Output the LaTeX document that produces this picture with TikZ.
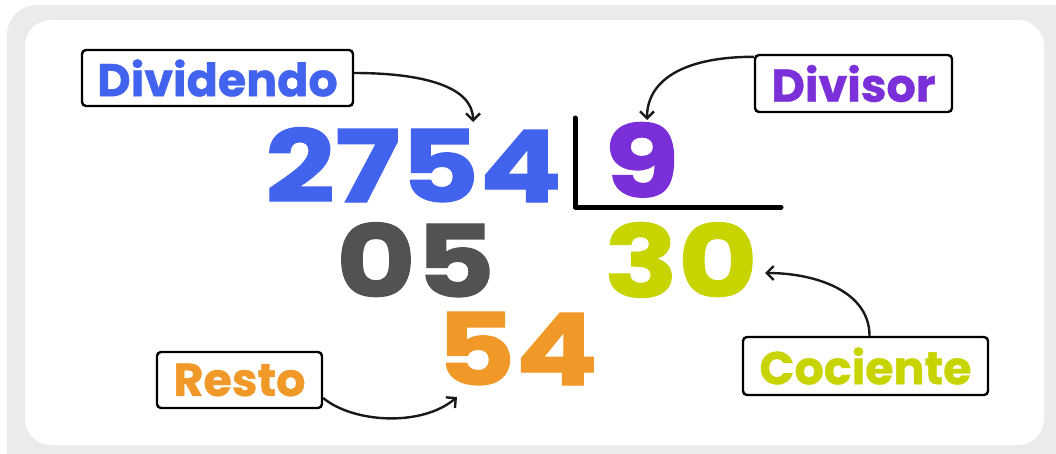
\documentclass[tikz,border=0pt]{standalone}
\usepackage{fontspec}
\setmainfont{Poppins}
\newfontfamily\digitfont{Poppins}[FakeStretch=1.22, BoldFeatures={FakeBold=1.2}]
\newfontfamily\labelfont{Poppins}[BoldFeatures={FakeBold=0.8}]
\usetikzlibrary{arrows.meta}
\definecolor{cblue}{RGB}{66,99,238}
\definecolor{cpurple}{RGB}{123,47,217}
\definecolor{cdark}{RGB}{82,82,82}
\definecolor{clime}{RGB}{200,212,0}
\definecolor{corange}{RGB}{240,152,40}
\definecolor{cframe}{RGB}{235,235,235}
\begin{document}
\begin{tikzpicture}[x=1pt,y=-1pt,
  lbl/.style={draw=black, line width=2.4pt, rounded corners=4pt, fill=white,
    font=\labelfont\fontsize{46}{46}\selectfont\bfseries, inner sep=0pt},
  num/.style={font=\digitfont\fontsize{100}{100}\selectfont\bfseries, inner sep=0pt, anchor=base west},
  arr/.style={-{Straight Barb[length=7pt,width=14pt]}, line width=2.4pt, draw=black!90},
]
\useasboundingbox (0,0) rectangle (1056,453);
\fill[white] (0,0) rectangle (1056,453);
\fill[cframe, rounded corners=30pt] (7,5) rectangle (1090,490);
\fill[white, rounded corners=26pt] (25,20) rectangle (1044,445);

% division bracket
\draw[line width=5pt, line cap=round, line join=round] (575,118) -- (575,207) -- (781,207);

% numbers
\node[num, text=cblue] (dividend) at (265,202) {2754};
\node[num, text=cpurple] (divisor) at (604,197) {9};
\node[num, text=cdark] (partial) at (336,297) {05};
\node[num, text=clime] (quot) at (604,297) {30};
\node[num, text=corange] (rem) at (436,385) {54};

% labels
\node[lbl, text=cblue, minimum width=271pt, minimum height=56pt] (ldvd) at (217.5,78) {Dividendo};
\node[lbl, text=cpurple, minimum width=197pt, minimum height=57pt] (ldvs) at (853.5,83.5) {Divisor};
\node[lbl, text=corange, minimum width=165pt, minimum height=56pt] (lres) at (239.5,380) {Resto};
\node[lbl, text=clime, minimum width=245pt, minimum height=58pt] (lcoc) at (865.5,366) {Cociente};

% arrow ends
\coordinate (tdvd) at (473,122);
\coordinate (tdvs) at (647,120);
\coordinate (tcoc) at (765,273);
\coordinate (tres) at (457,397);

\draw[arr] ([yshift=5pt]ldvd.east) .. controls +(70,0) and +(0,-35) .. (tdvd);
\draw[arr] ([yshift=-3pt]ldvs.north west) .. controls +(-70,0) and +(0,-40) .. (tdvs);
\draw[arr] ([xshift=4pt]lcoc.north) .. controls +(0,-45) and +(50,0) .. (tcoc);
\draw[arr] ([yshift=-18pt]lres.east) .. controls +(30,25) and +(-35,30) .. (tres);
\end{tikzpicture}
\end{document}
